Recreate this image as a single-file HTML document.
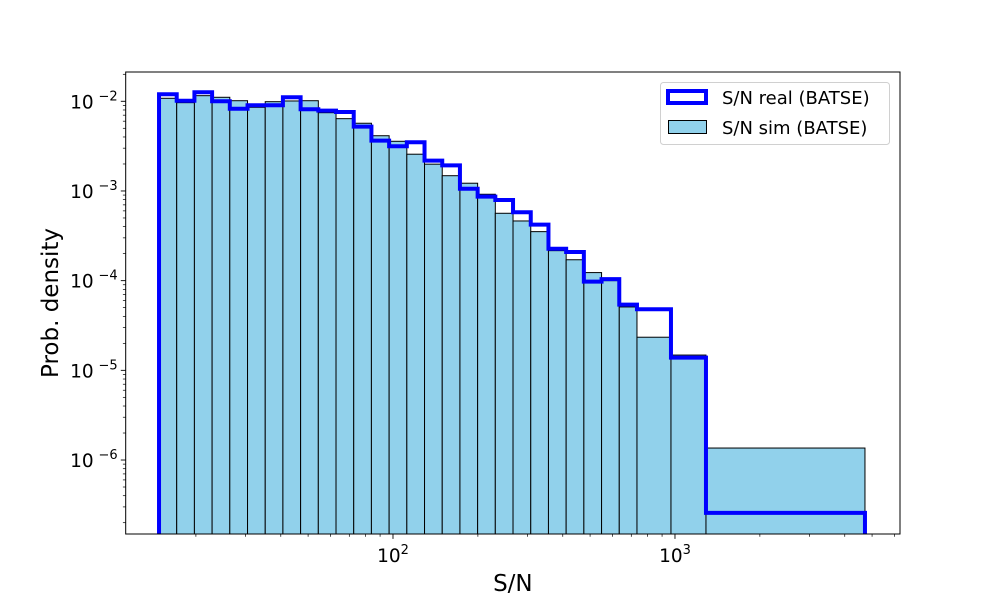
<!DOCTYPE html>
<html><head><meta charset="utf-8"><style>
html,body{margin:0;padding:0;background:#fff}
svg{display:block;font-family:"DejaVu Sans","Liberation Sans",sans-serif}
</style></head><body>
<svg id="chart" width="1000" height="600" viewBox="0 0 1000 600" xmlns="http://www.w3.org/2000/svg">
<g id="plot"></g>
</svg>
<script>
const binEdges=[14.80,17.10,19.76,22.83,26.38,30.49,35.23,40.70,47.03,54.35,62.80,72.57,83.85,96.89,111.96,129.37,149.49,172.74,199.60,230.6,266.5,308.0,355.9,411.2,475.2,549.1,634.5,733.2,967.8,1288,4718];
const simDensity=[1.080e-2,9.65e-3,1.155e-2,1.108e-2,1.015e-2,8.57e-3,9.90e-3,1.008e-2,1.015e-2,7.46e-3,6.40e-3,5.69e-3,4.13e-3,3.58e-3,2.57e-3,1.99e-3,1.48e-3,1.22e-3,9.19e-4,5.64e-4,4.63e-4,3.52e-4,2.16e-4,1.71e-4,1.23e-4,1.00e-4,5.09e-5,2.34e-5,1.48e-5,1.36e-6];
const realDensity=[1.197e-2,1.015e-2,1.26e-2,1.0e-2,8.27e-3,9.03e-3,9.03e-3,1.108e-2,8.14e-3,7.86e-3,7.60e-3,5.21e-3,3.64e-3,3.15e-3,3.49e-3,2.18e-3,1.93e-3,1.06e-3,8.64e-4,7.94e-4,5.79e-4,4.22e-4,2.27e-4,2.09e-4,9.74e-5,1.04e-4,5.40e-5,4.80e-5,1.385e-5,2.57e-7];
const xTickLabels=[[2,"10","2"],[3,"10","3"]];
const yTickLabels=[[-2,"10","−2"],[-3,"10","−3"],[-4,"10","−4"],[-5,"10","−5"],[-6,"10","−6"]];

const L=125.7,R=900,T=72,B=534;
const xLo=1.0521,xHi=3.798,yLo=-6.825,yHi=-1.6734;
const X=v=>L+(Math.log10(v)-xLo)/(xHi-xLo)*(R-L);
const Y=v=>B-(Math.log10(v)-yLo)/(yHi-yLo)*(B-T);
const NS="http://www.w3.org/2000/svg";
const g=document.getElementById('plot');
function mk(tag,attrs,parent){const e=document.createElementNS(NS,tag);for(const k in attrs)e.setAttribute(k,attrs[k]);(parent||g).appendChild(e);return e;}

const defs=mk('defs',{});
const cp=mk('clipPath',{id:'clip'},defs);
mk('rect',{x:L,y:T,width:R-L,height:B-T},cp);
const inner=mk('g',{'clip-path':'url(#clip)'});

for(let i=0;i<simDensity.length;i++){
  const x0=X(binEdges[i]),x1=X(binEdges[i+1]),y=Y(simDensity[i]);
  const r=mk('rect',{x:x0,y:y,width:x1-x0,height:B+5-y,fill:'#91d1eb',stroke:'#000','stroke-width':1},inner);
  
  
}
let d='M'+X(binEdges[0])+','+(B+10);
for(let i=0;i<realDensity.length;i++){
  const y=Y(realDensity[i]);
  d+=' L'+X(binEdges[i])+','+y+' L'+X(binEdges[i+1])+','+y;
}
d+=' L'+X(binEdges[binEdges.length-1])+','+(B+10);
const step=mk('path',{d:d,fill:'none',stroke:'#0000ff','stroke-width':4,'stroke-linejoin':'miter'},inner);



const fr=mk('rect',{x:L,y:T,width:R-L,height:B-T,fill:'none',stroke:'#000','stroke-width':1});



for(let e=1;e<=3;e++){for(let m=1;m<=9;m++){const v=m*Math.pow(10,e);const lv=Math.log10(v);if(lv<xLo||lv>xHi)continue;const x=X(v);const len=m===1?4.9:2.8;
 const t=mk('line',{x1:x,x2:x,y1:B,y2:B+len,stroke:'#000','stroke-width':m===1?0.9:0.7});
 
 }}
xTickLabels.forEach(([p,b,s])=>{const x=X(Math.pow(10,p));
 const t=mk('text',{x:x,y:B+28,'text-anchor':'middle','font-size':18.5,fill:'#000'});
 
 
 t.innerHTML=b+'<tspan dy="-8" font-size="13">'+s+'</tspan>';});
for(let e=-7;e<=-2;e++){for(let m=1;m<=9;m++){const v=m*Math.pow(10,e);const lv=Math.log10(v);if(lv<yLo||lv>yHi)continue;const y=Y(v);const len=m===1?4.9:2.8;
 const t=mk('line',{x1:L-len,x2:L,y1:y,y2:y,stroke:'#000','stroke-width':m===1?0.9:0.7});
 
 }}
yTickLabels.forEach(([p,b,s])=>{const y=Y(Math.pow(10,p));
 const t=mk('text',{x:L-32,y:y+7,'text-anchor':'end','font-size':18.5,fill:'#000'});
 
 
 t.innerHTML=b;
 const s2=mk('text',{x:L-8,y:y-1,'text-anchor':'end','font-size':13,fill:'#000'});
 
 
 s2.textContent=s;});

const xt=mk('text',{x:(L+R)/2,y:591,'text-anchor':'middle','font-size':23,fill:'#000'});


xt.textContent='S/N';
const yt=mk('text',{x:0,y:0,transform:'translate(58,303) rotate(-90)','text-anchor':'middle','font-size':23,fill:'#000'});


yt.textContent='Prob. density';

const lg=mk('g',{});


mk('rect',{x:660.5,y:82.5,width:229,height:62,rx:3,fill:'#fff','fill-opacity':0.8,stroke:'#d0d0d0','stroke-width':1},lg);
const p1=mk('rect',{x:668,y:91,width:38,height:12,fill:'#fff',stroke:'#0000ff','stroke-width':4},lg);


const t1=mk('text',{x:722,y:104,'font-size':18,fill:'#000'},lg);


t1.textContent='S/N real (BATSE)';
const p2=mk('rect',{x:668.5,y:120.5,width:38,height:13,fill:'#91d1eb',stroke:'#000','stroke-width':1},lg);


const t2=mk('text',{x:722,y:134,'font-size':18,fill:'#000'},lg);


t2.textContent='S/N sim (BATSE)';
</script>
</body></html>
